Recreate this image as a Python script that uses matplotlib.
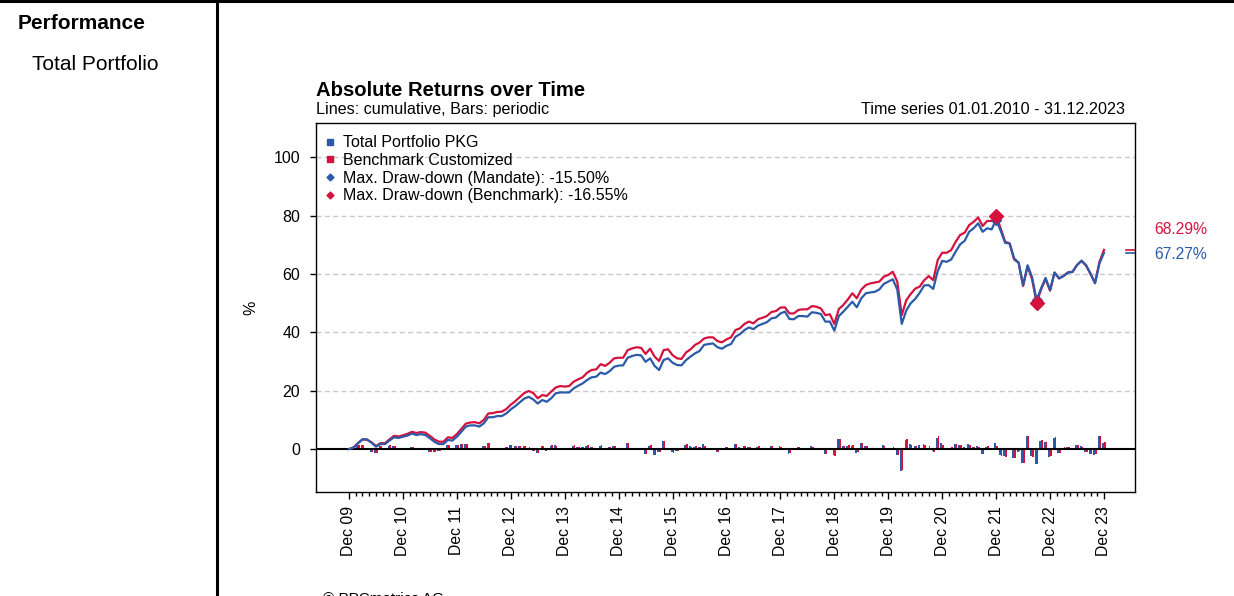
import numpy as np
import matplotlib.pyplot as plt
from matplotlib.lines import Line2D

plt.rcParams['font.family'] = ['Liberation Sans', 'DejaVu Sans']

BLUE = '#2B5BA8'
RED = '#D5123E'
W, H = 1234, 596

# monatliche Werte ab Dec 09 (Index 0) bis Dec 23 (Index 168), kumuliert in %
portfolio = [
    0.0, 0.5, 2.0, 3.3, 3.3, 2.2, 0.8, 1.7, 1.7, 2.9, 4.0, 3.8,
    4.2, 4.6, 5.3, 4.8, 5.1, 4.8, 3.7, 2.5, 1.7, 1.7, 3.1, 2.9,
    4.2, 5.9, 7.7, 8.1, 8.1, 7.7, 8.8, 10.9, 10.9, 11.3, 11.3, 12.2,
    13.6, 14.7, 16.0, 17.3, 17.9, 17.0, 15.6, 16.8, 16.2, 17.4, 19.1, 19.4,
    19.4, 19.4, 20.8, 21.7, 22.5, 23.7, 24.6, 24.8, 26.2, 25.7, 26.7, 28.2,
    28.6, 28.7, 31.3, 31.9, 32.3, 32.1, 29.9, 31.1, 28.5, 27.1, 30.5, 31.1,
    29.6, 28.8, 28.7, 30.5, 31.7, 32.8, 33.6, 35.7, 36.0, 36.2, 34.9, 34.4,
    35.4, 36.0, 38.5, 39.4, 40.8, 41.7, 41.1, 42.3, 42.9, 43.5, 44.8, 45.1,
    46.5, 47.1, 44.6, 44.5, 45.6, 45.6, 45.4, 46.9, 46.7, 46.3, 43.7, 43.7,
    40.6, 45.6, 47.1, 48.8, 50.5, 48.6, 51.7, 53.4, 53.7, 53.9, 54.7, 56.6,
    57.4, 58.2, 54.7, 42.9, 47.5, 50.0, 51.5, 53.6, 56.1, 56.2, 54.9, 61.0,
    64.5, 64.2, 65.0, 67.7, 70.2, 71.4, 74.5, 75.7, 77.4, 74.5, 75.7, 75.3,
    78.7, 74.9, 70.7, 70.5, 65.4, 63.9, 56.2, 63.0, 58.9, 51.0, 55.1, 58.7,
    54.5, 60.5, 58.5, 59.3, 60.5, 60.7, 63.1, 64.6, 63.1, 60.2, 56.8, 63.7,
    67.27,
]
benchmark = [
    0.0, 0.5, 2.0, 3.3, 3.2, 2.3, 1.0, 2.0, 2.0, 3.3, 4.5, 4.3,
    4.7, 5.2, 5.9, 5.5, 5.8, 5.6, 4.5, 3.3, 2.5, 2.5, 4.0, 3.8,
    5.1, 6.9, 8.7, 9.1, 9.2, 8.8, 10.0, 12.2, 12.3, 12.7, 12.8, 13.7,
    15.2, 16.4, 17.8, 19.2, 19.9, 19.2, 17.4, 18.5, 18.2, 19.7, 21.1, 21.6,
    21.4, 21.6, 23.1, 23.9, 24.6, 26.2, 27.1, 27.3, 29.1, 28.5, 29.6, 31.1,
    31.3, 31.3, 33.9, 34.5, 34.9, 34.7, 32.6, 34.4, 31.7, 30.2, 33.9, 34.2,
    32.2, 31.1, 30.9, 33.1, 34.2, 35.7, 36.5, 37.9, 38.3, 38.3, 37.0, 36.6,
    37.6, 38.3, 40.8, 41.4, 42.9, 43.7, 43.1, 44.5, 45.0, 45.6, 47.0, 47.3,
    48.5, 48.6, 46.5, 46.5, 47.7, 47.9, 47.9, 49.0, 48.8, 48.2, 45.9, 46.2,
    42.9, 48.0, 49.4, 51.3, 53.4, 51.7, 54.7, 56.2, 56.8, 57.1, 57.4, 59.1,
    59.7, 60.8, 57.4, 45.9, 51.0, 53.2, 55.0, 55.7, 57.9, 59.3, 57.9, 64.8,
    67.3, 67.3, 68.2, 71.1, 73.4, 74.2, 76.8, 77.9, 79.4, 76.5, 78.2, 78.2,
    80.0, 75.7, 71.1, 70.5, 65.0, 63.9, 55.9, 62.7, 58.2, 50.2, 54.7, 58.3,
    54.3, 60.5, 58.5, 59.4, 60.6, 60.8, 63.1, 64.5, 62.9, 60.0, 57.0, 64.2,
    68.29,
]
year_labels = ['Dec 09', 'Dec 10', 'Dec 11', 'Dec 12', 'Dec 13', 'Dec 14', 'Dec 15',
               'Dec 16', 'Dec 17', 'Dec 18', 'Dec 19', 'Dec 20', 'Dec 21', 'Dec 22', 'Dec 23']
legend_labels = ['Total Portfolio PKG', 'Benchmark Customized',
                 'Max. Draw-down (Mandate): -15.50%', 'Max. Draw-down (Benchmark): -16.55%']

months = np.arange(len(portfolio))
port = np.array(portfolio)
bench = np.array(benchmark)


def periodic(cum):
    idx = 1 + cum / 100
    return (idx[1:] / idx[:-1] - 1) * 100


def max_drawdown(cum):
    idx = 1 + cum / 100
    dd = idx / np.maximum.accumulate(idx) - 1
    trough = int(np.argmin(dd))
    peak = int(np.argmax(idx[:trough + 1]))
    return peak, trough


fig = plt.figure(figsize=(W / 100, H / 100), dpi=100)
ax = fig.add_axes([316 / W, 1 - 492 / H, (1135 - 316) / W, (492 - 123) / H])

for y in [20, 40, 60, 80, 100]:
    ax.axhline(y, color='#c8c8c8', lw=1, dashes=(3.6, 2.4), zorder=0)
ax.axhline(0, color='black', lw=1.5, zorder=3)

ax.bar(months[1:] - 0.19, periodic(port), width=0.38, color=BLUE, lw=0, zorder=2)
ax.bar(months[1:] + 0.19, periodic(bench), width=0.38, color=RED, lw=0, zorder=2)

ax.plot(months, bench, color=RED, lw=1.6, zorder=4)
ax.plot(months, port, color=BLUE, lw=1.6, zorder=5)

p, t = max_drawdown(port)
ax.plot(months[[p, t]], port[[p, t]], 'D', color=BLUE, ms=5.5, zorder=6)
p, t = max_drawdown(bench)
ax.plot(months[[p, t]], bench[[p, t]], 'D', color=RED, ms=7, zorder=7)

# Endwert-Markierungen am rechten Rand
ax.plot([172.9, 174.9], [bench[-1]] * 2, color=RED, lw=1.2)
ax.plot([172.9, 174.9], [port[-1]] * 2, color=BLUE, lw=1.2)

ax.set_xlim(-7.34, 174.9)
ax.set_ylim(-14.74, 111.8)
ax.set_yticks([0, 20, 40, 60, 80, 100])
ax.set_xticks(months[::12])
ax.set_xticklabels(year_labels, rotation=90)
ax.set_xticks(np.arange(0, 168.1, 1.5), minor=True)
ax.tick_params(axis='y', length=4.3, width=1, pad=7, labelsize=11.5)
ax.tick_params(axis='x', which='major', length=5, width=1, pad=5, labelsize=11.3)
ax.tick_params(axis='x', which='minor', length=3, width=1)
ax.set_ylabel('%', fontsize=11.5, labelpad=11)
for s in ax.spines.values():
    s.set_linewidth(1)

handles = [
    Line2D([], [], marker='s', color=BLUE, ls='none', ms=5),
    Line2D([], [], marker='s', color=RED, ls='none', ms=5),
    Line2D([], [], marker='D', color=BLUE, ls='none', ms=3.5),
    Line2D([], [], marker='D', color=RED, ls='none', ms=3.5),
]
ax.legend(handles, legend_labels, loc='upper left', bbox_to_anchor=(0.011, 0.967),
          frameon=False, fontsize=11.5, handlelength=0.6, handletextpad=0.5,
          labelspacing=0.17, borderaxespad=0, borderpad=0)

fig.text(316 / W, 1 - 96 / H, 'Absolute Returns over Time', weight='bold', size=14.6, va='baseline')
fig.text(316 / W, 1 - 114 / H, 'Lines: cumulative, Bars: periodic', size=11.6, va='baseline')
fig.text(1125 / W, 1 - 114 / H, 'Time series 01.01.2010 - 31.12.2023', size=11.6, va='baseline', ha='right')
fig.text(1154 / W, 1 - 234 / H, f'{bench[-1]:.2f}%', size=11.3, color=RED, va='baseline')
fig.text(1154 / W, 1 - 259 / H, f'{port[-1]:.2f}%', size=11.3, color=BLUE, va='baseline')

fig.text(18 / W, 1 - 29 / H, 'Performance', weight='bold', size=15, va='baseline')
fig.text(32 / W, 1 - 70 / H, 'Total Portfolio', size=15, va='baseline')
fig.text(323 / W, 1 - 592 / H, '© PPCmetrics AG', size=11, va='top')

fig.add_artist(Line2D([0, 1], [1 - 1 / H, 1 - 1 / H], color='black', lw=2.2))
fig.add_artist(Line2D([217 / W, 217 / W], [0, 1], color='black', lw=2.2))

fig.savefig('out.png', dpi=100)
